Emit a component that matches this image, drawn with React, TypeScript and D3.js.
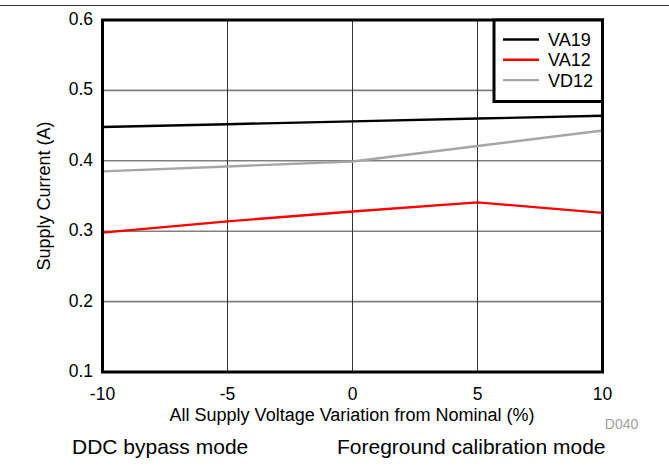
import React from "react";
import * as d3 from "d3";

const xValues = [-10, -5, 0, 5, 10];
const va19 = [0.448, 0.452, 0.456, 0.46, 0.464];
const va12 = [0.298, 0.314, 0.328, 0.341, 0.326];
const vd12 = [0.385, 0.392, 0.399, 0.421, 0.443];
const xTicks = [-10, -5, 0, 5, 10];
const yTicks = [0.1, 0.2, 0.3, 0.4, 0.5, 0.6];
const seriesNames = ["VA19", "VA12", "VD12"];
const seriesColors = ["#000000", "#ff0000", "#a6a6a6"];

export default function App() {
  const W = 669, H = 476;
  const L = 102.5, R = 602.5, T = 20, B = 372;
  const x = d3.scaleLinear().domain([-10, 10]).range([L, R]);
  const y = d3.scaleLinear().domain([0.1, 0.6]).range([B, T]);
  const line = d3.line<number>().x((_, i) => x(xValues[i])).y((d) => y(d));
  const series = [va19, va12, vd12];
  const font = "'Liberation Sans', Arial, sans-serif";
  return (
    <svg width={W} height={H} style={{ position: "absolute", left: 0, top: 0, background: "#fff" }} fontFamily={font}>
      <line x1={0} x2={W} y1={5.5} y2={5.5} stroke="#333" strokeWidth={1} />
      {yTicks.slice(1, -1).map((t) => (
        <line key={"h" + t} x1={L} x2={R} y1={y(t)} y2={y(t)} stroke="#808080" strokeWidth={1.6} />
      ))}
      {xTicks.slice(1, -1).map((t) => (
        <line key={"v" + t} x1={x(t)} x2={x(t)} y1={T} y2={B} stroke="#333" strokeWidth={1} />
      ))}
      {series.map((s, i) => (
        <path key={i} d={line(s) || ""} fill="none" stroke={seriesColors[i]} strokeWidth={2.4} />
      ))}
      <rect x={L} y={T} width={R - L} height={B - T} fill="none" stroke="#000" strokeWidth={3} />
      <rect x={494} y={T} width={R - 494} height={81.5} fill="#fff" stroke="#000" strokeWidth={3} />
      {seriesNames.map((n, i) => (
        <g key={n}>
          <line x1={503} x2={539} y1={39.5 + i * 20.3} y2={39.5 + i * 20.3} stroke={seriesColors[i]} strokeWidth={2.4} />
          <text x={548} y={39.5 + i * 20.3 + 6.5} fontSize={18}>{n}</text>
        </g>
      ))}
      {yTicks.map((t) => (
        <text key={"yt" + t} x={93} y={y(t) + 5} fontSize={17.5} textAnchor="end">{t.toFixed(1)}</text>
      ))}
      {xTicks.map((t) => (
        <text key={"xt" + t} x={x(t)} y={400} fontSize={17.5} textAnchor="middle">{t}</text>
      ))}
      <text x={352} y={421} fontSize={18} textAnchor="middle">All Supply Voltage Variation from Nominal (%)</text>
      <text transform={`translate(50,${(T + B) / 2}) rotate(-90)`} fontSize={18} textAnchor="middle">Supply Current (A)</text>
      <text x={621.5} y={429} fontSize={14} fill="#a0a0a0" textAnchor="middle">D040</text>
      <text x={72} y={454} fontSize={21}>DDC bypass mode</text>
      <text x={337} y={454} fontSize={21}>Foreground calibration mode</text>
    </svg>
  );
}
